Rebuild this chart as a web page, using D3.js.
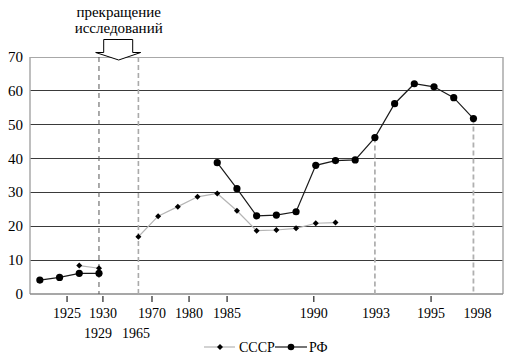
<!DOCTYPE html>
<html><head><meta charset="utf-8">
<script src="https://cdn.jsdelivr.net/npm/d3@7"></script>
<style>body{margin:0;background:#fff}svg{display:block}</style>
</head><body><svg id="c" width="517" height="364" font-family="'Liberation Serif', 'Times New Roman', 'DejaVu Serif', serif"></svg>
<script>
// category slots (24 slots, index 0..23)
const nSlots = 24;
// СССР series: [slot, value]
const ussrIdx = [2, 3, 5, 6, 7, 8, 9, 10, 11, 12, 13, 14, 15];
const ussrVal = [8.4, 7.6, 16.9, 23.0, 25.8, 28.7, 29.7, 24.6, 18.7, 18.9, 19.4, 20.9, 21.1];
// РФ series
const rfIdx = [0, 1, 2, 3, 9, 10, 11, 12, 13, 14, 15, 16, 17, 18, 19, 20, 21, 22];
const rfVal = [4.1, 4.9, 6.1, 6.1, 38.8, 31.1, 23.1, 23.3, 24.3, 38.0, 39.4, 39.6, 46.2, 56.2, 62.1, 61.2, 58.0, 51.8];
const yTicks = [0, 10, 20, 30, 40, 50, 60, 70];
// x labels: text, slot position, row
const xLabels = ["1925", "1930", "1970", "1980", "1985", "1990", "1993", "1995", "1998", "1929", "1965"];
const xLabelPos = [1.38, 3.2, 5.69, 7.57, 9.5, 13.9, 17.06, 19.85, 22.2, 2.95, 4.88];
const xLabelRow = [0, 0, 0, 0, 0, 0, 0, 0, 0, 1, 1];
const xTickPos = [1.38, 3.2, 5.69, 7.57, 9.5, 13.9, 19.85];
// vertical dashed markers
const fullDashIdx = [3, 5];
const partDashIdx = [17, 22];
const annotation = ["прекращение", "исследований"];
const seriesNames = ["СССР", "РФ"];

const FONT = "'Liberation Serif', 'Times New Roman', 'DejaVu Serif', serif";
const svg = d3.select("#c");
const L = 30, R = 503, T = 57, B = 294;
const x = d3.scaleLinear().domain([-0.5, nSlots - 0.5]).range([L, R]);
const y = d3.scaleLinear().domain([0, 70]).range([B, T]);

// gridlines
svg.append("g").selectAll("line").data(yTicks.filter(v => v > 0 && v < 70)).join("line")
  .attr("x1", L).attr("x2", R).attr("y1", d => y(d)).attr("y2", d => y(d))
  .attr("stroke", "#3a3a3a").attr("stroke-width", 1).attr("shape-rendering", "crispEdges");
// plot border
svg.append("line").attr("x1", L).attr("x2", R).attr("y1", y(70)).attr("y2", y(70)).attr("stroke", "#a8a8a8").attr("shape-rendering", "crispEdges");
svg.append("line").attr("x1", R).attr("x2", R).attr("y1", y(70)).attr("y2", B).attr("stroke", "#a8a8a8").attr("stroke-width", 1.5);
svg.append("line").attr("x1", L).attr("x2", L).attr("y1", y(70)).attr("y2", B).attr("stroke", "#a8a8a8").attr("stroke-width", 1.5);
svg.append("line").attr("x1", L).attr("x2", R).attr("y1", B).attr("y2", B).attr("stroke", "#8a8a8a").attr("stroke-width", 1.5);

// y labels
svg.append("g").selectAll("text").data(yTicks).join("text")
  .attr("x", 23).attr("y", d => y(d) + 5).attr("text-anchor", "end")
  .attr("font-family", FONT).attr("font-size", 15).text(d => d);

// dashed lines
svg.append("line").attr("x1", x(fullDashIdx[0])).attr("x2", x(fullDashIdx[0])).attr("y1", T).attr("y2", B)
  .attr("stroke", "#555").attr("stroke-width", 1).attr("stroke-dasharray", "5,4");
svg.append("line").attr("x1", x(fullDashIdx[1])).attr("x2", x(fullDashIdx[1])).attr("y1", T).attr("y2", B)
  .attr("stroke", "#aaa").attr("stroke-width", 1.6).attr("stroke-dasharray", "5,3");
partDashIdx.forEach(i => {
  const k = rfIdx.indexOf(i);
  svg.append("line").attr("x1", x(i)).attr("x2", x(i)).attr("y1", y(rfVal[k])).attr("y2", B)
    .attr("stroke", "#b0b0b0").attr("stroke-width", 1.8).attr("stroke-dasharray", "5,3");
});

// ticks
svg.append("g").selectAll("line").data(xTickPos).join("line")
  .attr("x1", d => x(d)).attr("x2", d => x(d)).attr("y1", B + 2).attr("y2", B + 8)
  .attr("stroke", "#222").attr("stroke-width", 1.2);
// x labels
svg.append("g").selectAll("text").data(xLabels).join("text")
  .attr("x", (d, i) => x(xLabelPos[i])).attr("y", (d, i) => 318 + xLabelRow[i] * 20)
  .attr("text-anchor", "middle").attr("font-family", FONT).attr("font-size", 14).text(d => d);

// build segments split at gaps
function segments(idx, val) {
  const segs = []; let cur = [];
  idx.forEach((s, i) => {
    if (i > 0 && s - idx[i - 1] > 1) { segs.push(cur); cur = []; }
    cur.push([s, val[i]]);
  });
  segs.push(cur); return segs;
}
const line = d3.line().x(d => x(d[0])).y(d => y(d[1]));
const ussrSegs = segments(ussrIdx, ussrVal), rfSegs = segments(rfIdx, rfVal);
svg.append("g").selectAll("path").data(ussrSegs).join("path").attr("d", line)
  .attr("fill", "none").attr("stroke", "#b5b5b5").attr("stroke-width", 1.2);
svg.append("g").selectAll("path").data(rfSegs).join("path").attr("d", line)
  .attr("fill", "none").attr("stroke", "#1a1a1a").attr("stroke-width", 1.2);
const diamond = d3.symbol().type(d3.symbolSquare).size(18);
svg.append("g").selectAll("path").data(ussrIdx).join("path")
  .attr("transform", (d, i) => `translate(${x(d)},${y(ussrVal[i])}) rotate(45)`).attr("d", diamond()).attr("fill", "#000");
svg.append("g").selectAll("circle").data(rfIdx).join("circle")
  .attr("cx", d => x(d)).attr("cy", (d, i) => y(rfVal[i])).attr("r", 3.6).attr("fill", "#000");

// annotation
const ax = x(4);
svg.append("path")
  .attr("d", `M${ax-15},39.5 L${ax+14},39.5 L${ax+14},52.5 L${ax+22},52.5 L${ax},60 L${ax-23},52.5 L${ax-15},52.5 Z`)
  .attr("fill", "#fff").attr("stroke", "#000").attr("stroke-width", 1);
svg.append("g").selectAll("text").data(annotation).join("text")
  .attr("x", ax).attr("y", (d, i) => 17 + i * 15.5).attr("text-anchor", "middle")
  .attr("font-family", FONT).attr("font-size", 15).text(d => d);

// legend
const ly = 347;
svg.append("line").attr("x1", 204).attr("x2", 235).attr("y1", ly).attr("y2", ly).attr("stroke", "#b5b5b5").attr("stroke-width", 1.2);
svg.append("path").attr("transform", `translate(220,${ly}) rotate(45)`).attr("d", diamond()).attr("fill", "#000");
svg.append("text").attr("x", 239).attr("y", ly + 5).attr("font-family", FONT).attr("font-size", 14).text(seriesNames[0]);
svg.append("line").attr("x1", 275).attr("x2", 307).attr("y1", ly).attr("y2", ly).attr("stroke", "#1a1a1a").attr("stroke-width", 1.2);
svg.append("circle").attr("cx", 291).attr("cy", ly).attr("r", 3.3).attr("fill", "#000");
svg.append("text").attr("x", 309).attr("y", ly + 5).attr("font-family", FONT).attr("font-size", 14).text(seriesNames[1]);
</script></body></html>
